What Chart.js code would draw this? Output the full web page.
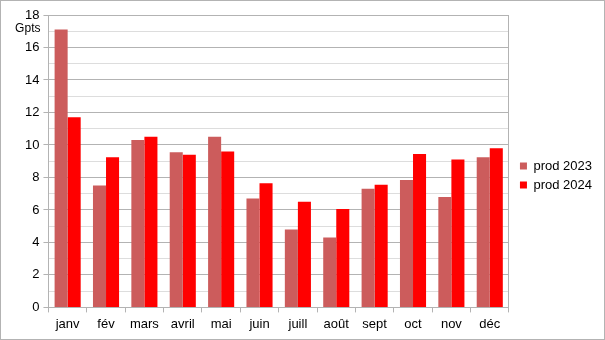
<!DOCTYPE html>
<html>
<head>
<meta charset="utf-8">
<script src="https://cdn.jsdelivr.net/npm/chart.js@4"></script>
<style>
  html, body { margin: 0; padding: 0; background: #fff; }
  #cadre { width: 603px; height: 338px; border: 1px solid #b3b3b3; position: relative; }
</style>
</head>
<body>
<div id="cadre"><canvas id="prodChart"></canvas></div>
<script>
// données
const mois = ['janv', 'fév', 'mars', 'avril', 'mai', 'juin', 'juill', 'août', 'sept', 'oct', 'nov', 'déc'];
const prod2023 = [17.1, 7.5, 10.3, 9.55, 10.5, 6.7, 4.8, 4.3, 7.3, 7.85, 6.8, 9.25];
const prod2024 = [11.7, 9.25, 10.5, 9.4, 9.6, 7.65, 6.5, 6.05, 7.55, 9.45, 9.1, 9.8];
const yMax = 18;
const uniteY = 'Gpts';

// libellé "Gpts" sous le 18
const unitePlugin = {
    id: 'unite',
    afterDraw(chart) {
        const { ctx, chartArea: a } = chart;
        ctx.save();
        ctx.fillStyle = '#000';
        ctx.font = '12px "Liberation Sans", Arial, sans-serif';
        ctx.textAlign = 'right';
        ctx.textBaseline = 'middle';
        ctx.fillText(uniteY, a.left - 8, a.top + 14);
        ctx.restore();
    }
};

const police = { family: '"Liberation Sans", Arial, sans-serif', size: 13 };

new Chart(document.getElementById('prodChart'), {
    type: 'bar',
    data: {
        labels: mois,
        datasets: [
            { label: 'prod 2023', data: prod2023, backgroundColor: '#cc5c5c', borderWidth: 0 },
            { label: 'prod 2024', data: prod2024, backgroundColor: '#ff0000', borderWidth: 0 }
        ]
    },
    options: {
        responsive: true,
        maintainAspectRatio: false,
        animation: false,
        layout: { padding: { top: 14, right: 2, left: 20, bottom: 3 } },
        datasets: { bar: { categoryPercentage: 0.68, barPercentage: 1.0 } },
        plugins: {
            tooltip: { enabled: false },
            legend: {
                position: 'right',
                labels: { color: '#000', font: police, boxWidth: 7, boxHeight: 7, padding: 6 }
            }
        },
        scales: {
            y: {
                min: 0,
                max: yMax,
                ticks: {
                    stepSize: 1,
                    color: '#000',
                    font: police,
                    padding: 4,
                    autoSkip: false,
                    callback: v => (v % 2 === 0 ? v : '')
                },
                grid: {
                    color: c => (c.tick && c.tick.value % 2 === 0 ? '#b3b3b3' : '#dddddd'),
                    tickColor: c => (c.tick && c.tick.value % 2 === 0 ? '#b3b3b3' : 'rgba(0,0,0,0)'),
                    tickLength: 5
                },
                border: { color: '#b3b3b3' }
            },
            // axe vide à droite : sert de bordure et d'écart avec la légende
            yDroite: {
                position: 'right',
                min: 0,
                max: yMax,
                ticks: { display: false },
                grid: { display: false },
                border: { color: '#b3b3b3' },
                afterFit(s) { s.width = 5; }
            },
            x: {
                ticks: { color: '#000', font: police, padding: 4 },
                grid: { offset: true, drawOnChartArea: false, color: '#b3b3b3', tickLength: 5 },
                border: { color: '#b3b3b3' }
            }
        }
    },
    plugins: [unitePlugin]
});
</script>
</body>
</html>
